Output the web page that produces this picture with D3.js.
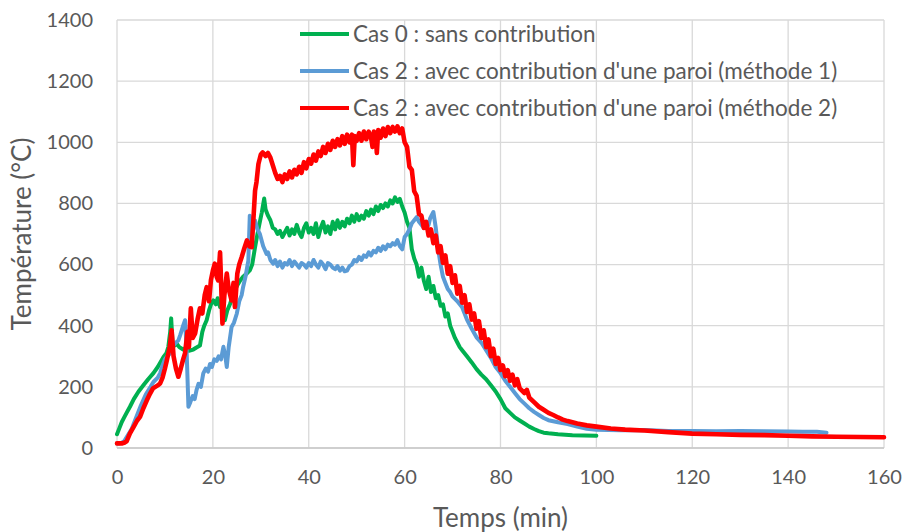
<!DOCTYPE html>
<html><head><meta charset="utf-8">
<script src="https://cdn.jsdelivr.net/npm/d3@7"></script>
<style>html,body{margin:0;padding:0;background:#fff;}svg{display:block;}</style>
</head><body>
<svg id="chart" width="906" height="532"></svg>
<script>
// ---- DATA ----
const xTicks = [0, 20, 40, 60, 80, 100, 120, 140, 160];
const yTicks = [0, 200, 400, 600, 800, 1000, 1200, 1400];
const seriesNames = [
  "Cas 0 : sans contribution",
  "Cas 2 : avec contribution d'une paroi (méthode 1)",
  "Cas 2 : avec contribution d'une paroi (méthode 2)"
];
const seriesColors = ["#00b050", "#5b9bd5", "#ff0000"];

// Cas 0 : sans contribution (green)
const cas0Time = [0,0.5,1,1.5,2,2.7,3.5,4.5,5.5,6.5,7.6,8.5,9.7,10.3,10.7,11.1,11.3,11.6,12,12.5,13,13.8,14.5,15,15.9,16.5,17.3,17.8,18.2,18.7,19.2,19.6,20.1,20.6,21,21.5,22,22.5,23,23.6,24.2,24.7,25.2,25.7,26.3,27,27.7,28.2,28.8,29.3,29.8,30.2,30.7,
31,31.5,32,32.5,33,33.5,34,34.5,35,35.5,36,36.5,37,37.5,38,38.5,39,39.5,40,40.5,41,41.5,42,42.5,43,43.5,44,44.5,45,45.5,46,46.5,47,47.5,48,48.5,49,49.5,50,50.5,51,51.5,52,52.5,53,53.5,54,54.5,55,55.5,56,56.5,57,57.5,58,58.5,59,59.5,60,60.5,
61,61.5,62,62.5,63,63.5,64,64.5,65,65.5,66,66.5,67,67.5,68,68.5,69,69.5,70,70.5,71,71.5,72,73,74,75,76,77,78,79,80,81,82,83,84,85,86,87,88,89,90,92,95,100];
const cas0Temp = [45,65,85,100,115,135,160,185,205,225,245,265,298,310,330,380,424,340,335,340,330,322,330,318,322,328,335,380,400,418,450,470,483,470,490,461,470,418,450,472,500,520,535,548,560,570,581,600,657,700,740,770,816,
780,760,745,720,715,700,710,690,705,720,695,715,700,730,705,690,720,735,705,720,700,735,690,720,740,705,725,700,740,715,745,720,740,725,750,735,760,740,765,745,760,750,775,760,780,765,790,775,795,785,800,790,810,800,820,805,815,790,770,740,
720,650,620,600,560,590,548,520,560,510,530,490,500,465,470,430,440,400,380,360,345,330,320,300,280,258,240,225,205,185,160,130,115,100,90,80,70,62,55,50,48,45,42,40];

// Cas 2 méthode 1 (blue)
const cas2m1Time = [0,0.5,1,1.5,2,3,4,5,6,7,7.6,8.5,9,9.5,10,10.5,11.1,11.5,12,12.8,13.2,13.5,13.8,14.2,14.5,14.9,15.3,15.8,16.2,16.6,17,17.5,18,18.5,19,19.4,19.8,20.3,20.8,21.2,21.7,22.2,22.6,22.9,23.3,23.9,24.4,25,25.5,26,26.3,26.8,27.4,27.7,28,28.8,29.3,29.8,
30.5,31.2,31.5,32,32.6,33,33.5,34,34.5,35,35.5,36,36.5,37,37.5,38,38.5,39,39.5,40,40.5,41,41.5,42,42.5,43,43.5,44,44.5,45,45.5,46,46.5,47,47.5,48,48.5,49,49.5,50,50.5,51,51.5,52,52.5,53,53.5,54,54.5,55,55.5,56,56.5,57,57.5,58,58.5,59,59.5,60,60.5,61,61.5,62,62.5,63,63.5,64,64.5,65,65.3,65.6,66,66.5,67,67.5,68,68.5,69,69.5,70,71,72,73,74,75,76,77,78,79,80,81,82,83,84,85,86,87,88,89,90,92,94,96,98,100,105,110,115,120,125,130,135,140,143,146,148];
const cas2m1Temp = [15,15,17,22,35,60,100,140,175,200,216,230,245,270,290,300,310,330,340,352,370,385,400,418,330,135,150,170,160,190,210,200,244,260,250,275,265,290,285,300,290,331,300,265,330,396,410,440,480,500,526,560,613,760,720,744,715,700,
660,635,640,615,603,615,595,610,590,605,600,615,595,610,600,590,605,600,590,605,595,615,600,590,610,600,585,605,600,590,585,595,580,590,578,580,595,600,615,610,625,615,630,625,640,630,645,640,655,645,660,650,665,660,670,665,680,660,650,690,700,715,735,745,755,740,730,720,740,730,750,760,772,720,650,600,560,540,520,510,495,480,460,420,390,362,345,320,295,265,245,220,200,180,160,145,130,118,108,98,91,84,78,70,63,60,58,59,56,56,55,56,55,54,53,53,50,45,40];

// Cas 2 méthode 2 (red)
const cas2m2Time = [0,1,1.5,2,2.7,3.5,4.2,4.8,5.5,6.2,6.9,7.5,8,8.5,9,9.5,10,10.4,11,11.4,11.8,12.3,12.8,13.3,13.8,14.2,14.7,15,15.4,15.8,16.3,16.8,17.3,17.8,18.3,18.7,19.2,19.6,20,20.4,20.8,21.1,21.5,21.8,22,22.4,22.9,23.3,23.9,24.3,24.6,25.1,25.5,26,26.5,27.1,27.6,28.1,28.5,28.8,29.1,29.5,30,30.4,31,31.5,32,32.5,
33,33.5,34,34.5,35,35.5,36,36.5,37,37.5,38,38.5,39,39.5,40,40.5,41,41.5,42,42.5,43,43.5,44,44.5,45,45.5,46,46.5,47,47.5,48,48.5,49,49.3,49.6,50,50.5,51,51.5,52,52.5,53,53.3,53.6,54,54.2,54.5,55,55.5,56,56.5,57,57.5,58,58.5,59,59.5,
60,60.5,61,61.5,62,62.5,63,63.5,64,64.5,65,65.5,66,66.5,67,67.5,68,68.5,69,69.5,70,70.5,71,71.5,72,72.5,73,73.5,74,74.5,75,75.5,76,76.5,77,77.5,78,78.5,79,79.5,80,80.5,81,81.5,82,82.5,83,83.5,84,
85,85.5,86,87,88,89,90,91,92,93,94,95,96,98,100,103,106,110,115,120,125,130,135,140,145,150,155,160];
const cas2m2Temp = [15,15,17,22,48,70,90,102,130,155,178,195,200,205,211,230,260,287,330,385,300,260,233,260,290,310,380,330,457,360,375,420,457,440,500,526,480,550,580,603,560,548,640,500,407,500,571,520,483,540,461,571,600,624,650,679,660,657,760,842,870,929,960,967,955,965,950,925,
900,880,890,870,895,880,905,885,910,895,920,900,935,915,945,930,960,940,970,955,985,965,995,975,1005,985,1010,990,1020,995,1025,1000,1025,925,1020,1005,1030,1005,1035,1010,1035,1015,985,1035,1020,965,1040,1015,1045,1020,1050,1030,1050,1035,1052,1030,1045,
1000,985,920,910,840,825,765,760,720,740,695,715,670,695,640,660,605,630,570,595,540,565,505,530,475,500,445,470,420,440,390,415,360,385,330,355,300,325,275,295,255,270,235,255,220,240,205,225,195,
180,190,165,150,135,125,115,108,100,93,88,84,80,74,70,64,60,57,52,47,45,43,42,40,38,37,36,35];

// ---- LAYOUT ----
const svg = d3.select("#chart");
const m = {left:117, right:884, top:20, bottom:448};
const x = d3.scaleLinear().domain([0,160]).range([m.left, m.right]);
const y = d3.scaleLinear().domain([0,1400]).range([m.bottom, m.top]);
const font = "Lato, 'Open Sans', sans-serif";
const textColor = "#595959";
const gridColor = "#d9d9d9";

// grid
const g = svg.append("g");
g.selectAll(".hg").data(yTicks).enter().append("line")
  .attr("x1", m.left).attr("x2", m.right)
  .attr("y1", d => y(d)).attr("y2", d => y(d))
  .attr("stroke", gridColor).attr("stroke-width", 1.3);
g.selectAll(".vg").data(xTicks).enter().append("line")
  .attr("y1", m.top).attr("y2", m.bottom)
  .attr("x1", d => x(d)).attr("x2", d => x(d))
  .attr("stroke", gridColor).attr("stroke-width", 1.3);

// axes with d3 axis generators (lines hidden, labels styled)
const xAxis = svg.append("g").attr("transform", `translate(0,${m.bottom})`)
  .call(d3.axisBottom(x).tickValues(xTicks).tickSize(0).tickPadding(22).tickFormat(d3.format("d")));
const yAxis = svg.append("g").attr("transform", `translate(${m.left},0)`)
  .call(d3.axisLeft(y).tickValues(yTicks).tickSize(0).tickPadding(24).tickFormat(d3.format("d")));
[xAxis, yAxis].forEach(a => {
  a.select(".domain").remove();
  a.selectAll("text").attr("font-family", font).attr("font-size", 20).attr("fill", textColor);
});
// bottom axis line
svg.append("line").attr("x1", m.left).attr("x2", m.right).attr("y1", m.bottom).attr("y2", m.bottom)
  .attr("stroke", "#c8c8c8").attr("stroke-width", 1.5);

// axis titles
svg.append("text").attr("x", x(80)).attr("y", 527).attr("text-anchor", "middle")
  .attr("font-family", font).attr("font-size", 26).attr("fill", textColor).text("Temps (min)");
svg.append("text").attr("transform", `translate(31,${(m.top+m.bottom)/2}) rotate(-90)`).attr("text-anchor", "middle")
  .attr("font-family", font).attr("font-size", 26).attr("fill", textColor).text("Température (°C)");

// series
const seriesData = [
  cas0Time.map((t,i) => [t, cas0Temp[i]]),
  cas2m1Time.map((t,i) => [t, cas2m1Temp[i]]),
  cas2m2Time.map((t,i) => [t, cas2m2Temp[i]])
];
const widths = [4, 4, 4.6];
const line = d3.line().x(d => x(d[0])).y(d => y(d[1]));
seriesData.forEach((s, i) => {
  svg.append("path").datum(s).attr("d", line)
    .attr("fill", "none").attr("stroke", seriesColors[i]).attr("stroke-width", widths[i])
    .attr("stroke-linejoin", "round").attr("stroke-linecap", "round");
});

// legend
const legendY = [34, 71, 108];
const lg = svg.append("g");
seriesNames.forEach((name, i) => {
  lg.append("line").attr("x1", 300).attr("x2", 349).attr("y1", legendY[i]).attr("y2", legendY[i])
    .attr("stroke", seriesColors[i]).attr("stroke-width", 4);
  lg.append("text").attr("x", 353).attr("y", legendY[i]).attr("dy", "0.35em")
    .attr("font-family", font).attr("font-size", 22.5).attr("fill", textColor).text(name);
});
</script>
</body></html>
